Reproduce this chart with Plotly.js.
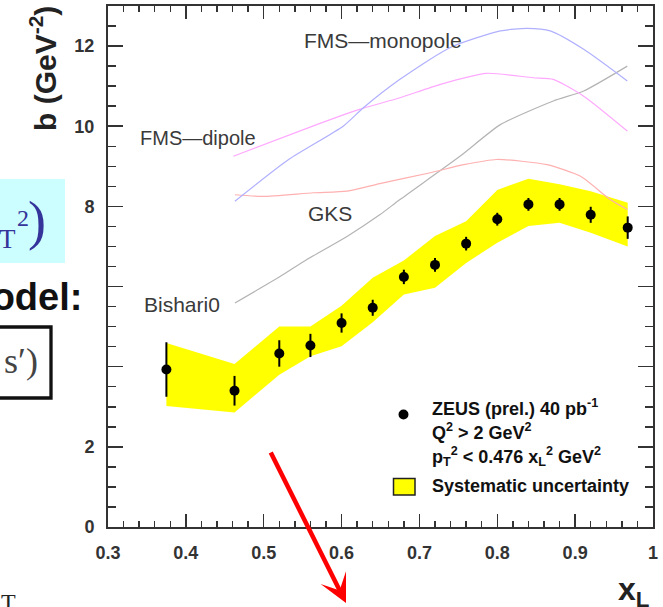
<!DOCTYPE html>
<html>
<head>
<meta charset="utf-8">
<script src="https://cdn.plot.ly/plotly-3.0.1.min.js"></script>
<style>
  html, body { margin: 0; padding: 0; background: #ffffff; }
  #chart { width: 663px; height: 607px; }
</style>
</head>
<body>
<div id="chart"></div>
<script>
// Leading-neutron slope b versus x_L, with model predictions
const xL        = [0.375, 0.4625, 0.52, 0.56, 0.60, 0.64, 0.68, 0.72, 0.76, 0.80, 0.84, 0.88, 0.92, 0.9675];
const bSlope    = [3.93, 3.40, 4.33, 4.53, 5.09, 5.47, 6.24, 6.54, 7.07, 7.68, 8.05, 8.05, 7.79, 7.47];
const bStatErr  = [0.68, 0.37, 0.33, 0.29, 0.24, 0.20, 0.18, 0.17, 0.17, 0.16, 0.16, 0.16, 0.20, 0.28];
const sysHigh   = [4.59, 4.07, 5.00, 5.00, 5.52, 6.22, 6.65, 7.26, 7.63, 8.41, 8.69, 8.55, 8.38, 8.09];
const sysLow    = [3.02, 2.86, 3.80, 4.26, 4.51, 5.11, 5.80, 5.97, 6.59, 7.09, 7.51, 7.59, 7.34, 7.00];

// model curves
const monoX  = [0.463, 0.532, 0.602, 0.628, 0.675, 0.739, 0.804, 0.838, 0.868, 0.911, 0.967];
const monoB  = [8.13, 9.17, 10.00, 10.46, 11.17, 11.96, 12.38, 12.44, 12.38, 11.92, 11.13];
const dipX   = [0.461, 0.568, 0.623, 0.675, 0.726, 0.786, 0.846, 0.872, 0.911, 0.967];
const dipB   = [9.25, 10.04, 10.42, 10.71, 11.04, 11.32, 11.21, 11.17, 10.75, 9.88];
const gksX   = [0.463, 0.499, 0.564, 0.607, 0.649, 0.714, 0.757, 0.799, 0.864, 0.907, 0.945, 0.967];
const gksB   = [8.29, 8.25, 8.34, 8.38, 8.57, 8.84, 9.04, 9.17, 9.04, 8.75, 8.17, 7.92];
const bishX  = [0.463, 0.521, 0.555, 0.607, 0.649, 0.675, 0.752, 0.804, 0.872, 0.911, 0.967];
const bishB  = [5.59, 6.25, 6.67, 7.25, 7.79, 8.17, 9.25, 10.04, 10.63, 10.88, 11.50];

const yTickVals = [0, 2, 4, 6, 8, 10, 12];
const yTickText = ['0', '2', '', '', '8', '10', '12'];

// page geometry helpers (pixel -> paper)
const L = 108, T = 6, W = 545, H = 521;
const px = v => (v - L) / W;
const py = v => (T + H - v) / H;

const SANS = 'Liberation Sans, Arial, Helvetica, sans-serif';
const SERIF = 'Liberation Serif, Times New Roman, serif';

const traces = [
  {
    // systematic band
    x: xL.concat(xL.slice().reverse()),
    y: sysHigh.concat(sysLow.slice().reverse()),
    type: 'scatter', mode: 'lines', fill: 'toself',
    fillcolor: '#ffff00', line: { width: 0, color: '#ffff00' },
    hoverinfo: 'skip'
  },
  { x: bishX, y: bishB, type: 'scatter', mode: 'lines', line: { color: '#b4b4b4', width: 1.2, shape: 'spline', smoothing: 0.6 } },
  { x: gksX,  y: gksB,  type: 'scatter', mode: 'lines', line: { color: '#ffb0b0', width: 1.2, shape: 'spline', smoothing: 0.6 } },
  { x: dipX,  y: dipB,  type: 'scatter', mode: 'lines', line: { color: '#ffa8ff', width: 1.2, shape: 'spline', smoothing: 0.6 } },
  { x: monoX, y: monoB, type: 'scatter', mode: 'lines', line: { color: '#b0b0ff', width: 1.2, shape: 'spline', smoothing: 0.6 } },
  {
    x: xL, y: bSlope, type: 'scatter', mode: 'markers',
    marker: { color: '#000', size: 10 },
    error_y: { type: 'data', array: bStatErr, visible: true, color: '#000', thickness: 2, width: 0 }
  }
];

const axisCommon = {
  ticks: 'inside', tickcolor: '#333', tickwidth: 1.5,
  showline: true, linecolor: '#333', linewidth: 2, mirror: 'allticks',
  showgrid: false, zeroline: false,
  tickfont: { family: SANS, size: 18, weight: 700, color: '#333' }
};

const layout = {
  width: 663, height: 607,
  margin: { l: L, r: 663 - L - W, t: T, b: 607 - T - H, pad: 0 },
  paper_bgcolor: '#ffffff', plot_bgcolor: '#ffffff',
  showlegend: false,
  font: { family: SANS, color: '#333' },
  xaxis: Object.assign({}, axisCommon, {
    range: [0.3, 1.0], tickmode: 'linear', tick0: 0.3, dtick: 0.1, ticklen: 13,
    ticklabelstandoff: 8,
    minor: { tickmode: 'linear', tick0: 0.3, dtick: 0.02, ticks: 'inside', ticklen: 6, tickwidth: 1.5, tickcolor: '#333', showgrid: false }
  }),
  yaxis: Object.assign({}, axisCommon, {
    range: [0, 13], tickmode: 'array', tickvals: yTickVals, ticktext: yTickText, ticklen: 15,
    ticklabelstandoff: 8,
    minor: { tickmode: 'linear', tick0: 0, dtick: 0.5, ticks: 'inside', ticklen: 8, tickwidth: 1.5, tickcolor: '#333', showgrid: false }
  }),
  shapes: [
    // slide fragments around the plot
    { type: 'rect', xref: 'paper', yref: 'paper', x0: px(-5), x1: px(65), y0: py(263), y1: py(179),
      fillcolor: '#ccfdff', line: { width: 0 } },
    { type: 'rect', xref: 'paper', yref: 'paper', x0: px(-10), x1: px(51), y0: py(398), y1: py(327),
      fillcolor: 'rgba(0,0,0,0)', line: { color: '#111', width: 3.3 } },
    // key: data marker and systematic swatch
    { type: 'circle', xref: 'paper', yref: 'paper', xsizemode: 'pixel', ysizemode: 'pixel',
      xanchor: px(403.5), yanchor: py(414.5), x0: -5, x1: 5, y0: -5, y1: 5,
      fillcolor: '#000', line: { width: 0 } },
    { type: 'rect', xref: 'paper', yref: 'paper', x0: px(393.5), x1: px(415), y0: py(495), y1: py(478.5),
      fillcolor: '#ffff00', line: { color: '#222', width: 1.5 } }
  ],
  annotations: [
    // axis titles
    { xref: 'paper', yref: 'paper', x: px(43), y: py(69), xanchor: 'center', yanchor: 'middle',
      textangle: -90, showarrow: false, text: 'b (GeV<sup>-2</sup>)',
      font: { family: SANS, size: 30, weight: 700, color: '#222' } },
    { xref: 'paper', yref: 'paper', x: px(651), y: py(591), xanchor: 'right', yanchor: 'middle',
      showarrow: false, text: 'x<sub>L</sub>',
      font: { family: SANS, size: 32, weight: 700, color: '#222' } },

    // model labels
    { xref: 'paper', yref: 'paper', x: px(302), y: py(40.5), xanchor: 'left', yanchor: 'middle', showarrow: false,
      text: 'FMS—monopole', font: { family: SANS, size: 21, color: '#3a3a3a' } },
    { xref: 'paper', yref: 'paper', x: px(138), y: py(138.5), xanchor: 'left', yanchor: 'middle', showarrow: false,
      text: 'FMS—dipole', font: { family: SANS, size: 20, color: '#3a3a3a' } },
    { xref: 'paper', yref: 'paper', x: px(305.5), y: py(213), xanchor: 'left', yanchor: 'middle', showarrow: false,
      text: 'GKS', font: { family: SANS, size: 21, color: '#3a3a3a' } },
    { xref: 'paper', yref: 'paper', x: px(142), y: py(304), xanchor: 'left', yanchor: 'middle', showarrow: false,
      text: 'Bishari0', font: { family: SANS, size: 21, color: '#3a3a3a' } },

    // key text
    { xref: 'paper', yref: 'paper', x: px(430), y: py(407), xanchor: 'left', yanchor: 'middle', showarrow: false,
      text: 'ZEUS (prel.) 40 pb<sup>-1</sup>', font: { family: SANS, size: 18, weight: 700, color: '#111' } },
    { xref: 'paper', yref: 'paper', x: px(430), y: py(431), xanchor: 'left', yanchor: 'middle', showarrow: false,
      text: 'Q<sup>2</sup> &gt; 2 GeV<sup>2</sup>', font: { family: SANS, size: 18, weight: 700, color: '#111' } },
    { xref: 'paper', yref: 'paper', x: px(430), y: py(456), xanchor: 'left', yanchor: 'middle', showarrow: false,
      text: 'p<sub>T</sub><sup>2</sup> &lt; 0.476 x<sub>L</sub><sup>2</sup> GeV<sup>2</sup>', font: { family: SANS, size: 18, weight: 700, color: '#111' } },
    { xref: 'paper', yref: 'paper', x: px(430), y: py(486), xanchor: 'left', yanchor: 'middle', showarrow: false,
      text: 'Systematic uncertainty', font: { family: SANS, size: 18, weight: 700, color: '#111' } },

    // slide fragments
    { xref: 'paper', yref: 'paper', x: px(37), y: py(221), xanchor: 'center', yanchor: 'middle', showarrow: false,
      text: ')', font: { family: SERIF, size: 54, color: '#34349a' } },
    { xref: 'paper', yref: 'paper', x: px(7), y: py(239), xanchor: 'center', yanchor: 'middle', showarrow: false,
      text: 'T', font: { family: SERIF, size: 27, color: '#34349a' } },
    { xref: 'paper', yref: 'paper', x: px(23), y: py(218), xanchor: 'center', yanchor: 'middle', showarrow: false,
      text: '2', font: { family: SERIF, size: 24, color: '#34349a' } },
    { xref: 'paper', yref: 'paper', x: px(84), y: py(297), xanchor: 'right', yanchor: 'middle', showarrow: false,
      text: 'Model:', font: { family: SANS, size: 38, weight: 700, color: '#111' } },
    { xref: 'paper', yref: 'paper', x: px(40), y: py(361), xanchor: 'right', yanchor: 'middle', showarrow: false,
      text: 's′)', font: { family: SERIF, size: 36, color: '#444' } },
    { xref: 'paper', yref: 'paper', x: px(8), y: py(587), xanchor: 'center', yanchor: 'top', showarrow: false,
      text: 'T', font: { family: SERIF, size: 24, color: '#222' } },

    // red pointer
    { xref: 'paper', yref: 'paper', x: px(346), y: py(603), ax: -76, ay: -152,
      showarrow: true, arrowhead: 3, arrowsize: 1.05, arrowwidth: 4.5, arrowcolor: '#ff0000', text: '' }
  ]
};

Plotly.newPlot('chart', traces, layout, { displayModeBar: false, staticPlot: true });
</script>
</body>
</html>
